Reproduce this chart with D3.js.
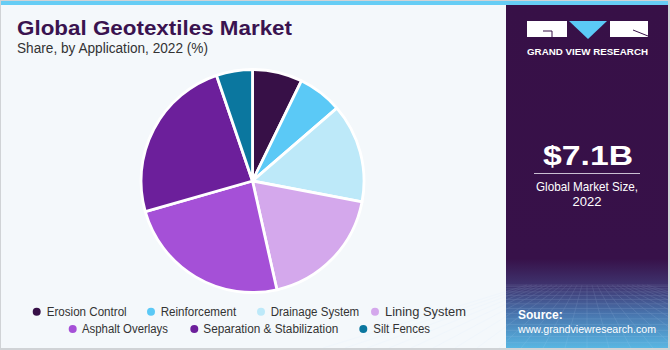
<!DOCTYPE html>
<html><head><meta charset="utf-8">
<script src="https://cdn.jsdelivr.net/npm/d3@7"></script>
<style>
html,body{margin:0;padding:0;background:#fff;}
svg{display:block;font-family:"Liberation Sans",Arial,sans-serif;}
</style></head>
<body>
<svg id="chart" width="670" height="350"></svg>
<script>
const categories = ["Erosion Control","Reinforcement","Drainage System","Lining System","Asphalt Overlays","Separation & Stabilization","Silt Fences"];
const shares = [7.2, 6.4, 14.3, 18.4, 24.0, 24.1, 5.2];
const colors = ["#371047","#5bc9f6","#bde9f9","#d4a8ec","#a550d7","#6c1f9b","#0b779f"];
const title = "Global Geotextiles Market";
const subtitle = "Share, by Application, 2022 (%)";
const marketValue = "$7.1B";
const marketLabel = ["Global Market Size,", "2022"];

const svg = d3.select("#chart");
// background
svg.append("rect").attr("x",0).attr("y",0).attr("width",670).attr("height",350).attr("fill","#d0d3d6");
svg.append("rect").attr("x",1).attr("y",1).attr("width",667).attr("height",347).attr("fill","#f4f8fb");
svg.append("rect").attr("x",1).attr("y",1).attr("width",667).attr("height",4).attr("fill","#66cdf5");

// right panel
const defs = svg.append("defs");
const grad = defs.append("linearGradient").attr("id","pg").attr("x1",0).attr("y1",0).attr("x2",0).attr("y2",1);
grad.append("stop").attr("offset","0%").attr("stop-color","#371047");
grad.append("stop").attr("offset","74%").attr("stop-color","#371149");
grad.append("stop").attr("offset","82%").attr("stop-color","#3f3570");
grad.append("stop").attr("offset","90%").attr("stop-color","#4874ad");
grad.append("stop").attr("offset","100%").attr("stop-color","#58b6e2");
svg.append("rect").attr("x",506).attr("y",5).attr("width",162).attr("height",343).attr("fill","url(#pg)");
// grid texture
const grid = svg.append("g").attr("opacity",0.18).attr("stroke","#cfe6ff").attr("stroke-width",0.6).attr("fill","none");
const gy = d3.range(0,14).map(i => 285 + Math.pow(i,1.45)*1.4);
gy.forEach(y => grid.append("line").attr("x1",506).attr("x2",668).attr("y1",y).attr("y2",y));
d3.range(-12,13).forEach(i => grid.append("line").attr("x1",587+i*5).attr("y1",285).attr("x2",587+i*22).attr("y2",348));

// logo
const logo = svg.append("g");
logo.append("rect").attr("x",527).attr("y",21).attr("width",40).attr("height",16).attr("fill","#ffffff");
logo.append("path").attr("d","M543,31 L552,31 L552,37").attr("stroke","#371047").attr("stroke-width",1).attr("fill","none");
logo.append("path").attr("d","M569,21 L607,21 L588,39 Z").attr("fill","#5bc9f6");
logo.append("rect").attr("x",610).attr("y",21).attr("width",38).attr("height",16).attr("fill","#ffffff");
logo.append("path").attr("d","M633,30 L648,36").attr("stroke","#371047").attr("stroke-width",1);
logo.append("text").attr("x",587.5).attr("y",55).attr("text-anchor","middle").attr("fill","#fff")
  .attr("font-size",8.6).attr("font-weight","bold").attr("textLength",121).attr("lengthAdjust","spacingAndGlyphs").text("GRAND VIEW RESEARCH");

// market size
svg.append("text").attr("x",588).attr("y",165).attr("text-anchor","middle").attr("fill","#fff")
  .attr("font-size",28).attr("font-weight","bold").attr("textLength",90).attr("lengthAdjust","spacingAndGlyphs").text(marketValue);
svg.append("line").attr("x1",534).attr("x2",640).attr("y1",173.5).attr("y2",173.5).attr("stroke","#c9bfd2").attr("stroke-width",1.2);
svg.append("text").attr("x",587).attr("y",191).attr("text-anchor","middle").attr("fill","#fff")
  .attr("font-size",13).attr("textLength",102).attr("lengthAdjust","spacingAndGlyphs").text(marketLabel[0]);
svg.append("text").attr("x",587).attr("y",206).attr("text-anchor","middle").attr("fill","#fff")
  .attr("font-size",13).text(marketLabel[1]);
svg.append("text").attr("x",518).attr("y",319).attr("fill","#fff").attr("font-size",12).attr("font-weight","bold").text("Source:");
svg.append("text").attr("x",518).attr("y",333).attr("fill","#fff").attr("font-size",11)
  .attr("textLength",138).attr("lengthAdjust","spacingAndGlyphs").text("www.grandviewresearch.com");

// titles
svg.append("text").attr("x",17).attr("y",34.5).attr("fill","#3a1350").attr("font-size",20).attr("font-weight","bold")
  .attr("textLength",275).attr("lengthAdjust","spacingAndGlyphs").text(title);
svg.append("text").attr("x",17).attr("y",53).attr("fill","#333").attr("font-size",14)
  .attr("textLength",191).attr("lengthAdjust","spacingAndGlyphs").text(subtitle);

// pie
const cx = 252.5, cy = 181, R = 111.5;
const pie = d3.pie().sort(null).value(d => d.v);
const arc = d3.arc().innerRadius(0).outerRadius(R);
const data = categories.map((c,i) => ({c, v: shares[i], col: colors[i]}));
svg.append("g").attr("transform",`translate(${cx},${cy})`)
  .selectAll("path").data(pie(data)).join("path")
  .attr("d",arc).attr("fill",d => d.data.col).attr("stroke","#fff").attr("stroke-width",2.8).attr("stroke-linejoin","round");

// legend
const legendPos = [
  {cx:36.7, tx:46.7, y:311.7, w:80},
  {cx:151, tx:160.7, y:311.7, w:75.5},
  {cx:261, tx:270.7, y:311.7, w:88.5},
  {cx:375, tx:385, y:311.7, w:81},
  {cx:72.7, tx:82, y:329, w:86},
  {cx:194.3, tx:203.3, y:329, w:135},
  {cx:363.3, tx:373.3, y:329, w:56.7}
];
const leg = svg.append("g");
data.forEach((d,i) => {
  const p = legendPos[i];
  leg.append("circle").attr("cx",p.cx).attr("cy",p.y).attr("r",4).attr("fill",d.col);
  leg.append("text").attr("x",p.tx).attr("y",p.y+4.3).attr("fill","#333").attr("font-size",12.5)
    .attr("textLength",p.w).attr("lengthAdjust","spacingAndGlyphs").text(d.c);
});
</script>
</body></html>
